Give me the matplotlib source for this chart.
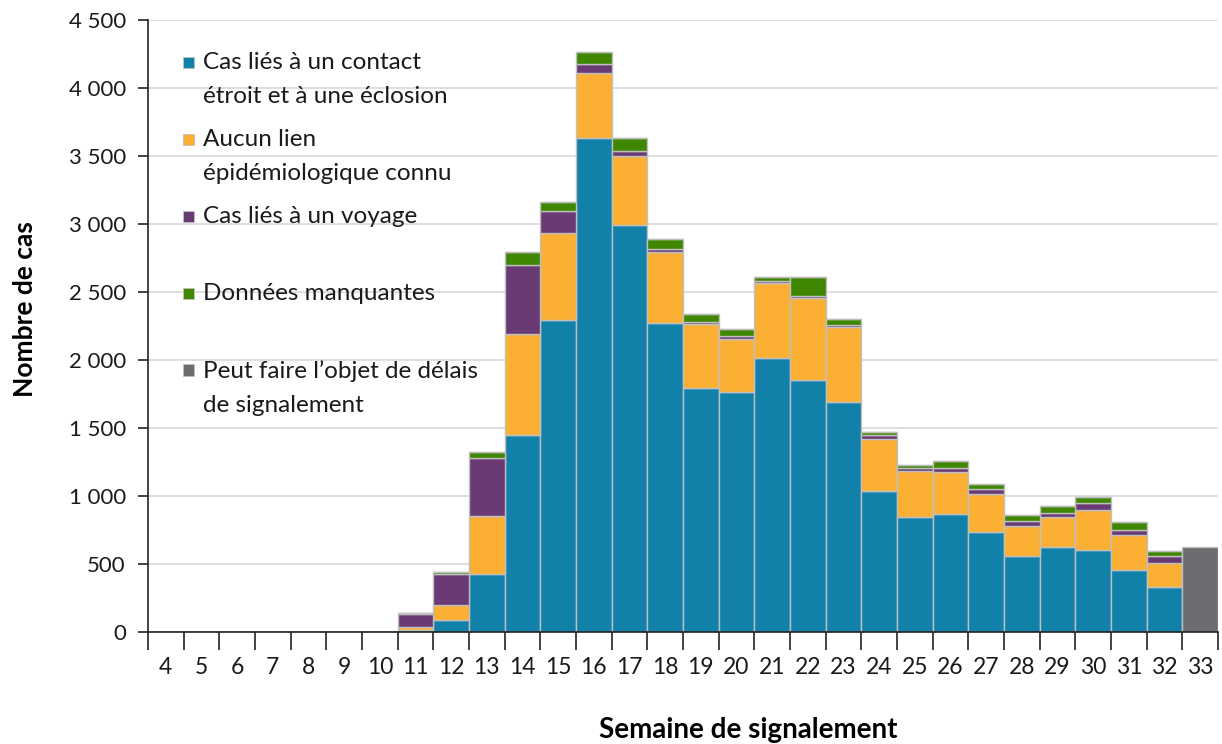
import numpy as np
import matplotlib
matplotlib.use("Agg")
import matplotlib.pyplot as plt
from matplotlib.patches import Rectangle
from matplotlib.ticker import FuncFormatter, MultipleLocator

plt.rcParams['font.family'] = ['Lato', 'DejaVu Sans']

# --- donnees ---
semaines = list(range(4, 34))
contact = [2, 0, 0, 0, 2, 2, 3, 18, 88, 429, 1448, 2294, 3630, 2993, 2274, 1792,
           1765, 2012, 1853, 1691, 1039, 843, 868, 738, 559, 627, 605, 456, 331, 0]
aucun_lien = [0, 0, 0, 0, 0, 0, 0, 21, 110, 426, 743, 637, 483, 509, 520, 473,
              392, 557, 601, 554, 380, 341, 306, 277, 220, 219, 295, 257, 176, 0]
voyage = [0, 0, 0, 0, 0, 0, 0, 93, 228, 422, 508, 165, 63, 35, 22, 12,
          19, 10, 19, 12, 29, 24, 29, 39, 40, 27, 46, 39, 52, 0]
manquantes = [0, 0, 0, 0, 0, 0, 0, 10, 13, 46, 97, 63, 86, 93, 71, 64,
              52, 34, 140, 47, 20, 20, 57, 34, 41, 56, 49, 54, 39, 0]
delais = [0] * 29 + [623]

series = [contact, aucun_lien, voyage, manquantes, delais]
labels = ["Cas liés à un contact\nétroit et à une éclosion",
          "Aucun lien\népidémiologique connu",
          "Cas liés à un voyage",
          "Données manquantes",
          "Peut faire l’objet de délais\nde signalement"]
couleurs = ["#1181AA", "#FBB034", "#6A3A74", "#3F8700", "#6C6D70"]

fig = plt.figure(figsize=(12.22, 7.44), dpi=100)
ax = fig.add_axes([148 / 1222, 1 - 632 / 744, 1070 / 1222, 612 / 744])

x = np.arange(len(semaines))
base = np.zeros(len(semaines))
for vals, col in zip(series, couleurs):
    vals = np.array(vals, dtype=float)
    ax.bar(x, vals, bottom=base, width=1.0, color=col, edgecolor="#BFBFBF",
           linewidth=1.0, zorder=3)
    base += vals

ax.set_xlim(-0.5, len(semaines) - 0.5)
ax.set_ylim(0, 4500)
ax.yaxis.set_major_locator(MultipleLocator(500))
ax.yaxis.set_major_formatter(FuncFormatter(lambda v, p: f"{int(v):,}".replace(",", " ")))
ax.grid(axis="y", color="#D9D9D9", linewidth=1.2, zorder=0)

ax.set_xticks(x)
ax.set_xticklabels([str(s) for s in semaines])
ax.set_xticks(np.arange(-0.5, len(semaines)), minor=True)
ax.tick_params(axis="x", which="major", length=0, pad=18, labelsize=16.5, colors="#1A1A1A")
ax.tick_params(axis="x", which="minor", length=13, width=1.2, color="#222222")
ax.tick_params(axis="y", length=7, width=1.2, color="#222222", pad=9,
               labelsize=16, labelcolor="#1A1A1A")

for s in ["top", "right"]:
    ax.spines[s].set_visible(False)
for s in ["left", "bottom"]:
    ax.spines[s].set_color("#222222")
    ax.spines[s].set_linewidth(1.2)
ax.spines["bottom"].set_zorder(4)

ax.set_ylabel("Nombre de cas", fontsize=19, fontweight="bold")
ax.yaxis.set_label_coords(-(148 - 25) / 1070, (632 - 309) / 612)
ax.set_xlabel("Semaine de signalement", fontsize=20, fontweight="bold")
ax.xaxis.set_label_coords((748 - 148) / 1070, -(730 - 632) / 612)
ax.xaxis.label.set_va("center")
ax.yaxis.label.set_va("center")

# legende faite a la main (carre aligne sur la 1re ligne)
for i, (lab, col) in enumerate(zip(labels, couleurs)):
    y_px = 62 + 77 * i
    yf = 1 - y_px / 744
    fig.patches.append(Rectangle((183 / 1222, yf - 5.5 / 744), 11 / 1222, 11 / 744,
                                 transform=fig.transFigure, facecolor=col,
                                 edgecolor="#BFBFBF", linewidth=0.6))
    fig.text(203 / 1222, yf + 10 / 744, lab, fontsize=17.5, va="top", ha="left",
             color="#1A1A1A", linespacing=1.75)

plt.savefig("out.png", dpi=100)
